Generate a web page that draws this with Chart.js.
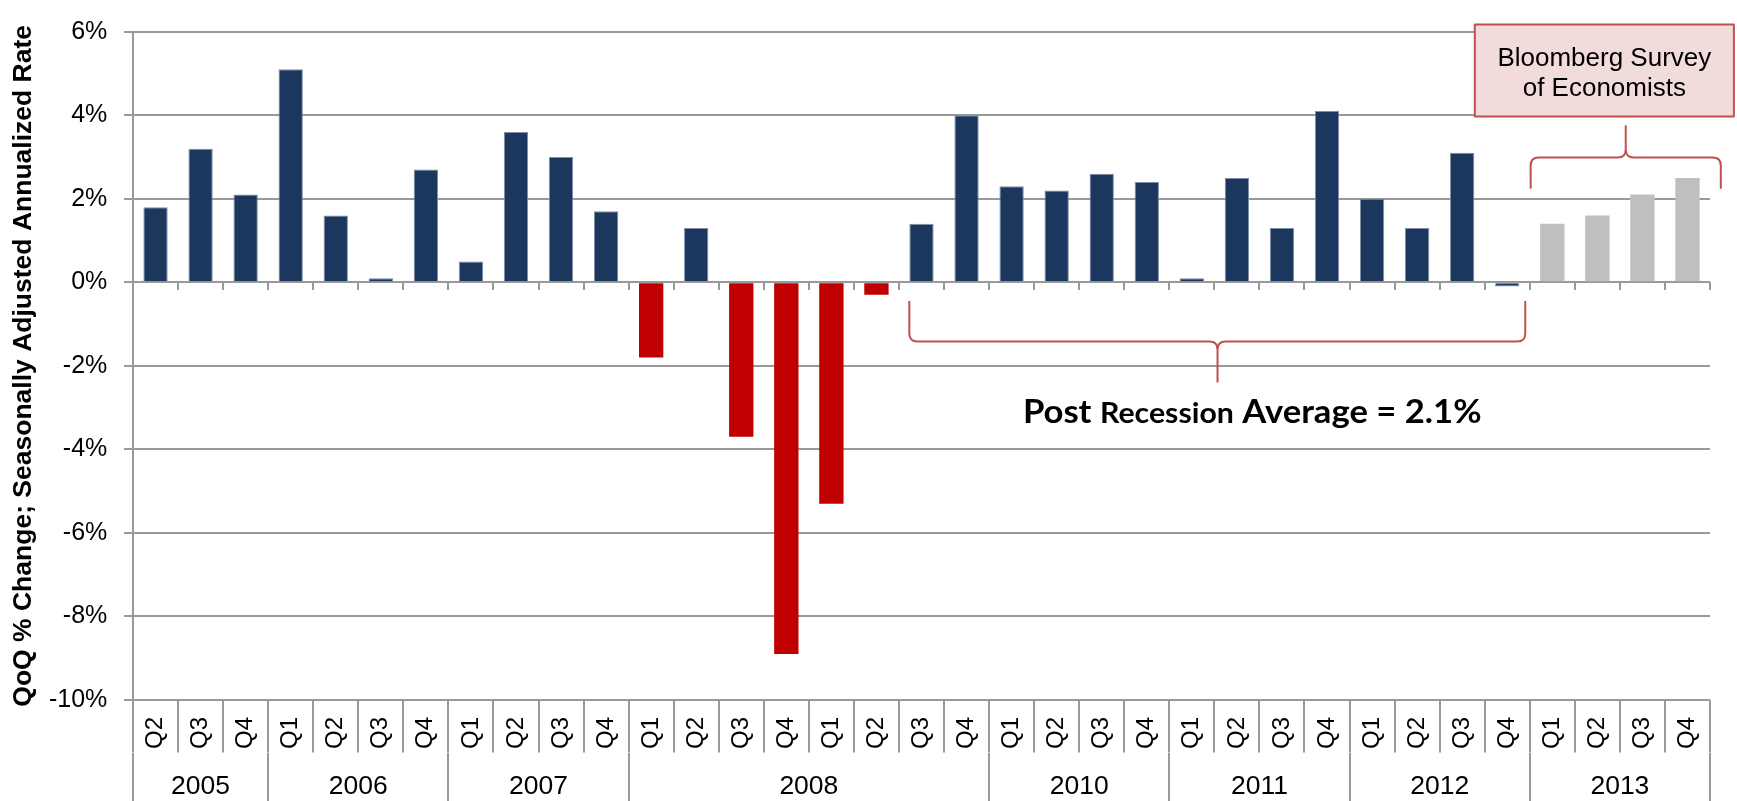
<!DOCTYPE html>
<html>
<head>
<meta charset="utf-8">
<script src="https://cdn.jsdelivr.net/npm/chart.js@4.4.1/dist/chart.umd.min.js"></script>
<style>
  html, body { margin: 0; padding: 0; background: #ffffff; overflow: hidden; }
  #wrap { width: 1737px; height: 801px; position: relative; }
</style>
</head>
<body>
<div id="wrap"><canvas id="c" width="1737" height="801"></canvas></div>
<script>
// ---------------- DATA ----------------
const quarterLabels = [
  'Q2','Q3','Q4',
  'Q1','Q2','Q3','Q4',
  'Q1','Q2','Q3','Q4',
  'Q1','Q2','Q3','Q4','Q1','Q2','Q3','Q4',
  'Q1','Q2','Q3','Q4',
  'Q1','Q2','Q3','Q4',
  'Q1','Q2','Q3','Q4',
  'Q1','Q2','Q3','Q4'
];
const yearLabels = ['2005','2006','2007','2008','2010','2011','2012','2013'];
const yearSpans  = [3, 4, 4, 8, 4, 4, 4, 4];
const gdpValues = [
  1.8, 3.2, 2.1,
  5.1, 1.6, 0.1, 2.7,
  0.5, 3.6, 3.0, 1.7,
  -1.8, 1.3, -3.7, -8.9, -5.3, -0.3, 1.4, 4.0,
  2.3, 2.2, 2.6, 2.4,
  0.1, 2.5, 1.3, 4.1,
  2.0, 1.3, 3.1, -0.1,
  1.4, 1.6, 2.1, 2.5
];
// A = actual, R = recession contraction, F = survey forecast
const barKinds = [
  'A','A','A',
  'A','A','A','A',
  'A','A','A','A',
  'R','A','R','R','R','R','A','A',
  'A','A','A','A',
  'A','A','A','A',
  'A','A','A','A',
  'F','F','F','F'
];
const yMin = -10, yMax = 6, yStep = 2;
const yAxisTitle = 'QoQ % Change; Seasonally Adjusted Annualized Rate';
const surveyNote = ['Bloomberg Survey', 'of Economists'];
const averageNote = ['Post ', 'Recession', ' Average = 2.1%'];

// ---------------- STYLE ----------------
const FONT = "'Liberation Sans', Arial, sans-serif";
const GRID = '#999999';
const kindColor = { A: '#1b375e', R: '#c00000', F: '#bfbfbf' };
const kindBorder = { A: '#7d8ea6', R: '#c00000', F: '#bfbfbf' };
const kindBorderWidth = { A: 1, R: 0, F: 0 };

// year axis ticks: boundaries (separator lines) and centres (labels)
const yearTicks = [];
(function () {
  let start = -0.5;
  yearSpans.forEach((span, i) => {
    yearTicks.push({ value: start, label: '', boundary: true });
    yearTicks.push({ value: start + span / 2, label: yearLabels[i], boundary: false });
    start += span;
  });
  yearTicks.push({ value: start, label: '', boundary: true });
})();

function drawBrace(ctx, xl, xr, xt, yEnd, yMid, yTip, r) {
  const s = Math.sign(yTip - yEnd);
  ctx.beginPath();
  ctx.moveTo(xl, yEnd);
  ctx.lineTo(xl, yMid - s * r);
  ctx.quadraticCurveTo(xl, yMid, xl + r, yMid);
  ctx.lineTo(xt - r, yMid);
  ctx.quadraticCurveTo(xt, yMid, xt, yMid + s * r);
  ctx.lineTo(xt, yTip);
  ctx.moveTo(xr, yEnd);
  ctx.lineTo(xr, yMid - s * r);
  ctx.quadraticCurveTo(xr, yMid, xr - r, yMid);
  ctx.lineTo(xt + r, yMid);
  ctx.quadraticCurveTo(xt, yMid, xt, yMid + s * r);
  ctx.stroke();
}

const notesPlugin = {
  id: 'notes',
  afterDraw(chart) {
    const ctx = chart.ctx;
    const xs = chart.scales.x2, ys = chart.scales.y;
    const X = v => xs.getPixelForValue(v);
    const Y = v => ys.getPixelForValue(v);
    ctx.save();
    ctx.strokeStyle = '#c0504d';
    ctx.lineWidth = 2;
    ctx.lineJoin = 'round';
    // brace below post-recession quarters
    drawBrace(ctx, X(16.73), X(30.40), X(23.57), Y(-0.45), Y(-1.42), Y(-2.40), 8);
    // brace above survey quarters
    drawBrace(ctx, X(30.52), X(34.74), X(32.63), Y(2.24), Y(2.99), Y(3.76), 8);

    // survey box
    const bx1 = X(29.28), bx2 = X(35.03), by1 = Y(6.17), by2 = Y(3.97);
    ctx.fillStyle = '#f2dcdb';
    ctx.fillRect(bx1, by1, bx2 - bx1, by2 - by1);
    ctx.strokeRect(bx1, by1, bx2 - bx1, by2 - by1);
    ctx.fillStyle = '#000000';
    ctx.font = '26px ' + FONT;
    ctx.textAlign = 'center';
    ctx.textBaseline = 'alphabetic';
    const cx = (bx1 + bx2) / 2;
    ctx.fillText(surveyNote[0], cx, Y(5.19));
    ctx.fillText(surveyNote[1], cx, Y(4.47));

    // post recession average text
    const big = "bold 32px Lato, 'Noto Sans', sans-serif";
    const small = "bold 28px Lato, 'Noto Sans', sans-serif";
    ctx.textAlign = 'left';
    ctx.font = big; const w1 = ctx.measureText(averageNote[0]).width;
    ctx.font = small; const w2 = ctx.measureText(averageNote[1]).width;
    ctx.font = big; const w3 = ctx.measureText(averageNote[2]).width;
    const tx = X(19.25), tw = X(29.43) - X(19.25);
    const sx = tw / (w1 + w2 + w3);
    ctx.translate(tx, Y(-3.37));
    ctx.scale(sx, 1);
    ctx.font = big; ctx.fillText(averageNote[0], 0, 0);
    ctx.font = small; ctx.fillText(averageNote[1], w1, 0);
    ctx.font = big; ctx.fillText(averageNote[2], w1 + w2, 0);
    ctx.restore();
  }
};

new Chart(document.getElementById('c'), {
  type: 'bar',
  data: {
    labels: quarterLabels,
    datasets: [{
      data: gdpValues,
      backgroundColor: barKinds.map(k => kindColor[k]),
      borderColor: barKinds.map(k => kindBorder[k]),
      borderWidth: barKinds.map(k => kindBorderWidth[k]),
      barPercentage: 0.54,
      categoryPercentage: 1.0,
      xAxisID: 'x',
      yAxisID: 'y'
    }]
  },
  options: {
    responsive: false,
    animation: false,
    devicePixelRatio: 1,
    layout: { padding: { top: 17, right: 27, left: 0, bottom: 0 } },
    plugins: { legend: { display: false }, tooltip: { enabled: false } },
    scales: {
      y: {
        min: yMin, max: yMax,
        ticks: {
          stepSize: yStep,
          callback: v => v + '%',
          font: { family: FONT, size: 25 },
          color: '#000000',
          padding: 16.7
        },
        grid: { color: GRID, lineWidth: 2, tickLength: 9 },
        border: { display: true, color: GRID, width: 2 },
        title: {
          display: true,
          text: yAxisTitle,
          font: { family: FONT, size: 26.5, weight: 'bold' },
          color: '#000000',
          padding: { top: 8, bottom: 0 }
        },
        afterFit: s => { s.width = 133; }
      },
      x: {
        type: 'category',
        position: 'bottom',
        weight: 0,
        offset: true,
        ticks: {
          minRotation: 90, maxRotation: 90, autoSkip: false,
          font: { family: FONT, size: 24 },
          color: '#000000',
          padding: -35.5
        },
        grid: { offset: true, drawOnChartArea: false, tickLength: 52.5, color: GRID, lineWidth: 2 },
        border: { display: false },
        afterFit: s => { s.height = 52.5; }
      },
      x2: {
        type: 'linear',
        position: 'bottom',
        weight: 1,
        offset: false,
        min: -0.5, max: 34.5,
        bounds: 'data',
        afterBuildTicks: s => { s.ticks = yearTicks.map(t => ({ value: t.value })); },
        ticks: {
          autoSkip: false, minRotation: 0, maxRotation: 0,
          callback: (v, i) => (yearTicks[i] ? yearTicks[i].label : ''),
          font: { family: FONT, size: 26.5 },
          color: '#000000',
          padding: -30
        },
        grid: {
          offset: false,
          drawOnChartArea: false, tickLength: 48.5, lineWidth: 2,
          color: c => (yearTicks[c.index] && yearTicks[c.index].boundary ? GRID : 'rgba(0,0,0,0)')
        },
        border: { display: false },
        afterFit: s => { s.height = 48.5; }
      },
      xz: {
        type: 'category',
        position: { y: 0 },
        offset: true,
        ticks: { display: false },
        grid: { offset: true, drawOnChartArea: false, tickLength: 8, color: GRID, lineWidth: 2 },
        border: { display: false },
        afterFit: s => { s.height = 0; }
      }
    }
  },
  plugins: [notesPlugin]
});
</script>
</body>
</html>
